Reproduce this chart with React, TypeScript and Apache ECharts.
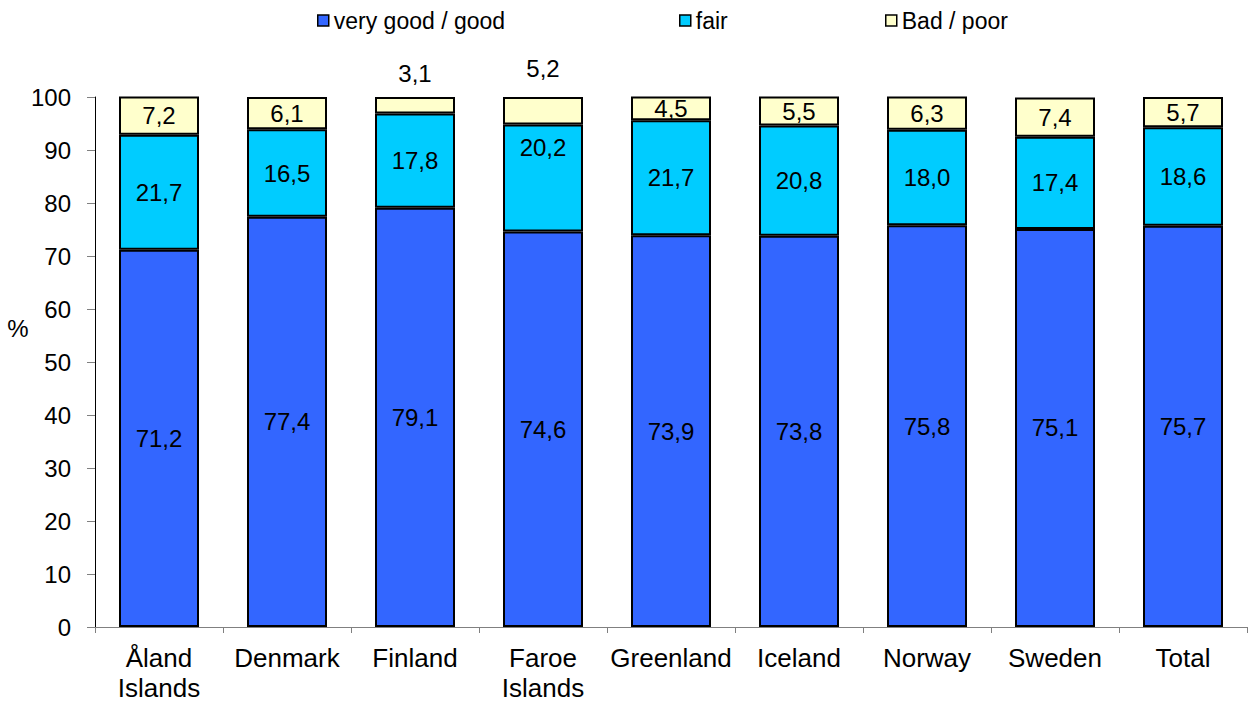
import React, { useEffect, useRef } from "react";
import * as echarts from "echarts";

const categories = ["Åland\nIslands", "Denmark", "Finland", "Faroe\nIslands", "Greenland", "Iceland", "Norway", "Sweden", "Total"];
const goodValues = [71.2, 77.4, 79.1, 74.6, 73.9, 73.8, 75.8, 75.1, 75.7];
const fairValues = [21.7, 16.5, 17.8, 20.2, 21.7, 20.8, 18.0, 17.4, 18.6];
const badValues = [7.2, 6.1, 3.1, 5.2, 4.5, 5.5, 6.3, 7.4, 5.7];
const seriesNames = ["very good / good", "fair", "Bad / poor"];
const yTicks = { min: 0, max: 100, interval: 10 };

const FONT = "'Liberation Sans', Arial, sans-serif";
const fmt = (p: any) => Number(p.value).toFixed(1).replace(".", ",");

export default function App() {
  const ref = useRef<HTMLDivElement>(null);
  useEffect(() => {
    document.body.style.margin = "0";
    if (!ref.current) return;
    const chart = echarts.init(ref.current, undefined, { renderer: "svg" });

    const labelBase = { show: true, color: "#000", fontSize: 24, fontFamily: FONT, formatter: fmt };
    const itemBase = (color: string) => ({ color, borderColor: "#000", borderWidth: 2 });

    const fairData = fairValues.map((v, i) =>
      i === 3 ? { value: v, label: { offset: [0, -31] } } : v
    );
    const badData = badValues.map((v, i) => {
      if (i === 2) return { value: v, label: { position: "top", distance: 12 } };
      if (i === 3) return { value: v, label: { position: "top", distance: 17 } };
      return v;
    });

    const legendCommon = {
      top: 4,
      itemWidth: 11,
      itemHeight: 11,
      itemGap: 0,
      icon: "rect",
      itemStyle: { borderColor: "#000", borderWidth: 1.5 },
      textStyle: { fontSize: 23, fontFamily: FONT, color: "#000", padding: [0, 0, 0, 0] },
      selectedMode: false,
    };

    chart.setOption({
      animation: false,
      backgroundColor: "#fff",
      legend: [
        { ...legendCommon, data: [seriesNames[0]], left: 312 },
        { ...legendCommon, data: [seriesNames[1]], left: 674 },
        { ...legendCommon, data: [seriesNames[2]], left: 880 },
      ],
      grid: { left: 95, right: 3, top: 97, bottom: 77 },
      xAxis: {
        type: "category",
        data: categories,
        axisLine: { lineStyle: { color: "#808080", width: 1 } },
        axisTick: { show: true, length: 6, lineStyle: { color: "#808080" } },
        axisLabel: { fontSize: 26, lineHeight: 30, fontFamily: FONT, color: "#000", margin: 16, interval: 0 },
      },
      yAxis: {
        type: "value",
        min: yTicks.min,
        max: yTicks.max,
        interval: yTicks.interval,
        splitLine: { show: false },
        axisLine: { show: true, lineStyle: { color: "#000", width: 1 } },
        axisTick: { show: true, length: 8, lineStyle: { color: "#808080" } },
        axisLabel: { fontSize: 24, fontFamily: FONT, color: "#000", margin: 24 },
      },
      graphic: [
        {
          type: "text",
          x: 18,
          y: 328,
          style: { text: "%", fontSize: 24, fontFamily: FONT, fill: "#000", align: "center", verticalAlign: "middle" },
        },
      ],
      series: [
        {
          name: seriesNames[0],
          type: "bar",
          stack: "s",
          barWidth: 80,
          data: goodValues,
          itemStyle: itemBase("#3366FF"),
          label: { ...labelBase, position: "inside" },
        },
        {
          name: seriesNames[1],
          type: "bar",
          stack: "s",
          barWidth: 80,
          data: fairData,
          itemStyle: itemBase("#00CCFF"),
          label: { ...labelBase, position: "inside" },
        },
        {
          name: seriesNames[2],
          type: "bar",
          stack: "s",
          barWidth: 80,
          data: badData,
          itemStyle: itemBase("#FFFFCC"),
          label: { ...labelBase, position: "inside" },
        },
      ],
    });
    return () => chart.dispose();
  }, []);
  return <div ref={ref} style={{ width: 1250, height: 704 }} />;
}
